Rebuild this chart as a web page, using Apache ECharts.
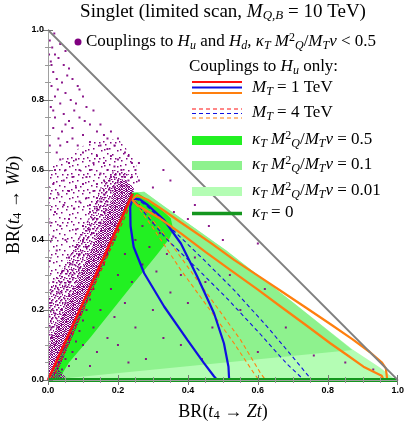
<!DOCTYPE html>
<html>
<head>
<meta charset="utf-8">
<script src="https://cdn.jsdelivr.net/npm/echarts@6/dist/echarts.min.js"></script>
<style>
  html, body { margin: 0; padding: 0; background: #fff; }
  #chart { width: 407px; height: 427px; }
</style>
</head>
<body>
<div id="chart"></div>
<script>
// axis ticks
const xTicks = [0, 0.2, 0.4, 0.6, 0.8, 1.0];
const yTicks = [0, 0.2, 0.4, 0.6, 0.8, 1.0];

// kinematic limit BR(Zt) + BR(Wb) = 1
const kinematicLimit = [[0, 1], [1, 0]];

// coupling regions (H_u only)
const region001 = [[0, 0], [0.238, 0.535], [0.275, 0.538], [0.33, 0.498], [0.509, 0.371], [0.7, 0.222], [0.87, 0.088], [0.95, 0.035], [0.985, 0.008], [0.99, 0], [0, 0]];
const region01 = [[0, 0], [0.238, 0.535], [0.275, 0.538], [0.33, 0.498], [0.509, 0.371], [0.7, 0.222], [0.87, 0.086], [0, 0]];
const region05 = [[0.005, 0], [0.238, 0.535], [0.256, 0.535], [0.313, 0.497], [0.351, 0.462], [0.358, 0.43], [0.348, 0.405], [0.313, 0.36], [0.24, 0.27], [0.18, 0.195], [0.12, 0.12], [0.06, 0.05], [0.03, 0]];

// M_T = 1 TeV curves
const redSolid = [[0, 0], [0.242, 0.532]];
const blueSolid = [[0.484, 0], [0.475, 0.01], [0.446, 0.048], [0.399, 0.114], [0.332, 0.21], [0.275, 0.305], [0.245, 0.38], [0.236, 0.44], [0.235, 0.495], [0.242, 0.518], [0.262, 0.516], [0.285, 0.5], [0.332, 0.457], [0.38, 0.39], [0.427, 0.295], [0.475, 0.19], [0.503, 0.105], [0.516, 0.038], [0.518, 0]];
const orangeSolid = [[0.24, 0.515], [0.255, 0.528], [0.285, 0.515], [0.33, 0.485], [0.38, 0.45], [0.466, 0.391], [0.532, 0.343], [0.6, 0.298], [0.665, 0.255], [0.74, 0.205], [0.807, 0.16], [0.87, 0.117], [0.92, 0.08], [0.955, 0.05], [0.966, 0.033], [0.97, 0.0], [0.96, 0.0], [0.954, 0.012], [0.902, 0.038], [0.85, 0.075], [0.807, 0.105], [0.74, 0.155], [0.665, 0.21], [0.6, 0.258], [0.522, 0.314], [0.45, 0.366], [0.38, 0.419], [0.32, 0.462], [0.285, 0.482], [0.255, 0.5], [0.24, 0.515]];

// M_T = 4 TeV curves
const redDashed = [[0.012, 0], [0.245, 0.522]];
const blueDashed = [[0.25, 0.52], [0.285, 0.495], [0.361, 0.425], [0.446, 0.343], [0.532, 0.257], [0.627, 0.152], [0.703, 0.062], [0.754, 0], [0.732, 0], [0.684, 0.045], [0.608, 0.13], [0.513, 0.232], [0.427, 0.318], [0.342, 0.4], [0.29, 0.46], [0.25, 0.51]];
const orangeDashed = [[0.248, 0.515], [0.323, 0.429], [0.399, 0.324], [0.475, 0.219], [0.551, 0.114], [0.608, 0.019], [0.622, 0], [0.603, 0], [0.589, 0.019], [0.532, 0.105], [0.456, 0.21], [0.38, 0.314], [0.304, 0.429], [0.25, 0.505]];

// kappa_T = 0
const kappaZero = [[0, 0], [1, 0]];

// scan (couplings to H_u and H_d): dense band next to the red line, then looser zones around it
const scanBand = [[0, 0], [0, 0.095], [0.085, 0.286], [0.168, 0.476], [0.19, 0.55], [0.215, 0.575], [0.245, 0.55], [0.245, 0.535], [0.03, 0.03], [0.06, 0], [0, 0]];
const scanInner = [[0, 0.095], [0, 0.25], [0.06, 0.35], [0.12, 0.47], [0.15, 0.55], [0.19, 0.6], [0.235, 0.59], [0.215, 0.575], [0.19, 0.55], [0.168, 0.476], [0.085, 0.286]];
const scanHalo = [[0, 0.04], [0, 0.6], [0.05, 0.64], [0.12, 0.68], [0.2, 0.69], [0.25, 0.63], [0.26, 0.56], [0.245, 0.54], [0.03, 0.03]];

// scan points
const scanUpper = [[0.005, 0.97], [0.012, 0.95], [0.02, 0.93], [0.008, 0.91], [0.03, 0.92], [0.045, 0.9], [0.015, 0.88], [0.06, 0.89], [0.025, 0.86], [0.04, 0.85], [0.07, 0.86], [0.01, 0.84], [0.085, 0.84], [0.05, 0.82], [0.02, 0.81], [0.09, 0.83], [0.065, 0.8], [0.035, 0.79], [0.1, 0.81], [0.008, 0.78], [0.075, 0.77], [0.045, 0.76], [0.11, 0.78], [0.02, 0.75], [0.06, 0.74], [0.13, 0.77], [0.09, 0.75], [0.015, 0.72], [0.04, 0.71], [0.12, 0.73], [0.07, 0.72], [0.1, 0.7], [0.03, 0.69], [0.14, 0.71], [0.055, 0.68], [0.085, 0.67], [0.005, 0.67], [0.16, 0.7], [0.12, 0.68], [0.025, 0.65], [0.003, 0.93], [0.018, 0.99], [0.05, 0.94], [0.035, 0.96], [0.01, 0.9], [0.028, 0.83], [0.055, 0.87], [0.08, 0.79], [0.015, 0.77], [0.05, 0.73], [0.105, 0.74], [0.035, 0.67], [0.07, 0.69], [0.15, 0.73], [0.17, 0.69]];
const scanCluster = [[0.15, 0.67], [0.17, 0.66], [0.14, 0.64], [0.18, 0.64], [0.16, 0.62], [0.2, 0.63], [0.13, 0.62], [0.19, 0.61], [0.17, 0.6], [0.21, 0.6], [0.15, 0.59], [0.12, 0.6], [0.22, 0.58], [0.18, 0.58], [0.2, 0.57], [0.16, 0.57], [0.23, 0.57], [0.14, 0.56], [0.11, 0.58], [0.19, 0.55], [0.21, 0.555], [0.175, 0.545], [0.225, 0.555], [0.1, 0.56], [0.13, 0.54], [0.09, 0.6], [0.08, 0.63], [0.06, 0.62], [0.1, 0.65], [0.05, 0.6], [0.07, 0.58], [0.035, 0.63], [0.02, 0.6], [0.045, 0.57], [0.08, 0.55], [0.015, 0.56], [0.06, 0.54], [0.03, 0.53], [0.11, 0.52], [0.09, 0.51], [0.005, 0.52], [0.045, 0.5], [0.075, 0.49], [0.02, 0.48], [0.06, 0.46], [0.035, 0.44], [0.005, 0.45], [0.08, 0.43], [0.015, 0.41], [0.05, 0.4], [0.025, 0.37], [0.06, 0.35], [0.005, 0.34], [0.04, 0.31], [0.015, 0.28], [0.03, 0.25], [0.005, 0.22], [0.02, 0.19], [0.008, 0.15], [0.012, 0.12], [0.19, 0.67], [0.2, 0.69], [0.18, 0.71], [0.22, 0.65], [0.24, 0.62], [0.25, 0.6], [0.24, 0.58], [0.26, 0.57], [0.23, 0.64]];
const scanHaloPts = [[0.07, 0.3], [0.05, 0.27], [0.09, 0.36], [0.1, 0.4], [0.12, 0.43], [0.13, 0.46], [0.14, 0.49], [0.15, 0.51], [0.12, 0.48], [0.1, 0.44], [0.08, 0.38], [0.07, 0.33], [0.06, 0.24], [0.04, 0.2], [0.03, 0.15], [0.02, 0.1], [0.11, 0.38], [0.13, 0.42], [0.15, 0.45], [0.16, 0.48], [0.17, 0.5], [0.09, 0.32], [0.06, 0.28], [0.05, 0.22], [0.14, 0.52], [0.16, 0.53], [0.12, 0.5]];
const scanInside = [[0.26, 0.5], [0.28, 0.48], [0.3, 0.45], [0.27, 0.44], [0.32, 0.42], [0.25, 0.4], [0.29, 0.38], [0.34, 0.36], [0.22, 0.36], [0.27, 0.33], [0.31, 0.31], [0.2, 0.3], [0.24, 0.28], [0.18, 0.26], [0.22, 0.22], [0.15, 0.2], [0.19, 0.18], [0.13, 0.15], [0.17, 0.12], [0.1, 0.1], [0.14, 0.08], [0.08, 0.06], [0.12, 0.04], [0.2, 0.1], [0.25, 0.15], [0.3, 0.2], [0.35, 0.25], [0.38, 0.3], [0.42, 0.35], [0.45, 0.28], [0.4, 0.22], [0.33, 0.12], [0.28, 0.06], [0.47, 0.15], [0.52, 0.3], [0.46, 0.44], [0.36, 0.48], [0.4, 0.46], [0.5, 0.4], [0.55, 0.2], [0.62, 0.26], [0.68, 0.15], [0.76, 0.07], [0.85, 0.05], [0.93, 0.03], [0.6, 0.08], [0.44, 0.06], [0.23, 0.05], [0.38, 0.1], [0.26, 0.62], [0.3, 0.55], [0.35, 0.57], [0.42, 0.5], [0.6, 0.39], [0.33, 0.6]];
const scanNearRed = [[0.02, 0.02], [0.04, 0.03], [0.03, 0.05], [0.05, 0.06], [0.06, 0.04], [0.07, 0.08], [0.045, 0.09], [0.08, 0.11], [0.06, 0.12], [0.09, 0.14], [0.1, 0.17], [0.11, 0.2], [0.12, 0.23], [0.13, 0.26], [0.14, 0.3], [0.16, 0.33], [0.17, 0.36], [0.19, 0.4], [0.2, 0.43], [0.21, 0.46], [0.22, 0.49], [0.23, 0.51]];

const RED = '#ff1010', BLUE = '#1010e0', ORANGE = '#ff7f0e', PURPLE = '#800080';
const G05 = '#22f022', G01 = '#8ef28e', G001 = '#b4fdb4', GLINE = '#14961e';
const SERIF = '"Liberation Serif", "DejaVu Serif", serif';

// speckle fills used for the crowded parts of the scan
function speckle(size, cells, dot) {
  const c = document.createElement('canvas');
  c.width = c.height = size;
  const g = c.getContext('2d');
  g.fillStyle = PURPLE;
  cells.forEach(([x, y]) => g.fillRect(x, y, dot, dot));
  return { image: c, repeat: 'repeat' };
}
const denseFill = speckle(7, [[0, 0], [2, 0], [3, 0], [6, 0], [1, 1], [4, 1], [5, 1], [0, 2], [2, 2], [3, 2], [6, 2], [1, 3], [4, 3], [5, 3], [0, 4], [2, 4], [3, 4], [5, 4], [1, 5], [3, 5], [6, 5], [0, 6], [2, 6], [4, 6], [5, 6]], 1);
const midFill = speckle(9, [[0, 0], [4, 1], [7, 2], [2, 3], [5, 5], [8, 6], [1, 7], [6, 8], [3, 8], [6, 3]], 1.5);
const looseFill = speckle(16, [[2, 1], [9, 0], [13, 4], [5, 6], [0, 10], [11, 9], [7, 13], [14, 14], [3, 14], [8, 5]], 1.5);

function polySeries(points, fill, opacity, z) {
  return {
    type: 'custom', z, silent: true, clip: true,
    data: [0],
    renderItem: (params, api) => ({
      type: 'polygon',
      shape: { points: points.map((p) => api.coord(p)) },
      style: { fill, opacity, stroke: null },
    }),
  };
}

function lineSeries(points, color, width, dash, z) {
  return {
    type: 'line', data: points, z, silent: true,
    symbol: 'none', showSymbol: false,
    lineStyle: { color, width, type: dash ? [4, 3] : 'solid', cap: 'butt' },
  };
}

const FS = 17;
const rich = {
  r: { fontFamily: SERIF, fontSize: FS, color: '#000' },
  i: { fontFamily: SERIF, fontSize: FS, fontStyle: 'italic', color: '#000' },
  sub: { fontFamily: SERIF, fontSize: 12, fontStyle: 'italic', color: '#000', padding: [8, 0, 0, 0] },
  sup: { fontFamily: SERIF, fontSize: 12, color: '#000', padding: [0, 0, 8, 0] },
  n: { fontFamily: SERIF, fontSize: 12, color: '#000', padding: [8, 0, 0, 0] },
};
const titleRich = Object.assign({}, rich, {
  r: Object.assign({}, rich.r, { fontSize: 19 }),
  i: Object.assign({}, rich.i, { fontSize: 19 }),
  sub: Object.assign({}, rich.sub, { fontSize: 13 }),
});
const axisRich = Object.assign({}, rich, {
  r: Object.assign({}, rich.r, { fontSize: 18 }),
  i: Object.assign({}, rich.i, { fontSize: 18 }),
  n: Object.assign({}, rich.n, { fontSize: 12.5 }),
});
const KAPPA = '{i|κ}{sub|T}{i| M}{sup|2}{sub|Q}{r|/}{i|M}{sub|T}{i|v}';

function label(x, y, text, extra) {
  return { type: 'text', x, y, z: 100, style: Object.assign({ text, rich, verticalAlign: 'middle', align: 'left' }, extra || {}) };
}
function sample(y, color, width, dash) {
  return { type: 'line', z: 100, shape: { x1: 192, y1: y, x2: 242, y2: y }, style: { stroke: color, lineWidth: width, lineDash: dash ? [4, 3] : null } };
}
function box(y, color) {
  return { type: 'rect', z: 100, shape: { x: 192, y: y - 4.5, width: 50, height: 9 }, style: { fill: color } };
}

const tickLabel = { fontFamily: '"Liberation Sans", Arial, sans-serif', fontWeight: 'bold', fontSize: 9, color: '#000' };
const frameLine = { show: true, lineStyle: { color: '#a0a0a0', width: 1 } };
const ticks = { show: true, inside: true, length: 5, lineStyle: { color: '#777' } };
const minor = { show: true, splitNumber: 4, length: 3, lineStyle: { color: '#999' } };

const chart = echarts.init(document.getElementById('chart'));
chart.setOption({
  animation: false,
  grid: { left: 48, right: 8, top: 30, bottom: 47 },
  xAxis: [
    { type: 'value', min: 0, max: 1, interval: 0.2, z: 10, axisLine: frameLine, axisTick: ticks, minorTick: minor,
      splitLine: { show: false }, axisLabel: Object.assign({ margin: 6, formatter: (v) => v.toFixed(1) }, tickLabel) },
    { type: 'value', position: 'top', min: 0, max: 1, interval: 0.2, z: 10, axisLine: frameLine, axisTick: ticks, minorTick: minor,
      splitLine: { show: false }, axisLabel: { show: false } },
  ],
  yAxis: [
    { type: 'value', min: 0, max: 1, interval: 0.2, z: 10, axisLine: frameLine, axisTick: ticks, minorTick: minor,
      splitLine: { show: false }, axisLabel: Object.assign({ margin: 4, formatter: (v) => v.toFixed(1) }, tickLabel) },
    { type: 'value', position: 'right', min: 0, max: 1, interval: 0.2, z: 10, axisLine: frameLine, axisTick: ticks, minorTick: minor,
      splitLine: { show: false }, axisLabel: { show: false } },
  ],
  series: [
    polySeries(region001, G001, 1, 1),
    polySeries(region01, G01, 1, 1),
    polySeries(region05, G05, 1, 1),
    polySeries(scanHalo, looseFill, 1, 2),
    polySeries(scanInner, midFill, 1, 2),
    polySeries(scanBand, denseFill, 1, 2),
    {
      type: 'scatter', z: 3, silent: true, symbol: 'rect', symbolSize: 2,
      itemStyle: { color: PURPLE, opacity: 0.9 },
      data: [].concat(scanUpper, scanCluster, scanHaloPts, scanInside, scanNearRed),
    },
    lineSeries(orangeDashed, ORANGE, 1.1, true, 4),
    lineSeries(blueDashed, BLUE, 1.1, true, 4),
    lineSeries(redDashed, RED, 1.1, true, 4),
    lineSeries(blueSolid, BLUE, 2.2, false, 5),
    lineSeries(orangeSolid, ORANGE, 2.2, false, 5),
    lineSeries(redSolid, RED, 2.6, false, 6),
    lineSeries(kappaZero, GLINE, 4, false, 6),
    lineSeries(kinematicLimit, '#808080', 1.8, false, 7),
  ],
  graphic: [
    { type: 'text', x: 223, y: 12, z: 100, style: { text: '{r|Singlet (limited scan, }{i|M}{sub|Q,B}{r| = 10 TeV)}', rich: titleRich, align: 'center', verticalAlign: 'middle' } },
    { type: 'circle', z: 100, shape: { cx: 78, cy: 42, r: 3.5 }, style: { fill: PURPLE } },
    label(86, 42, '{r|Couplings to }{i|H}{sub|u}{r| and }{i|H}{sub|d}{r|, }' + KAPPA + '{r| < 0.5}'),
    label(189, 67, '{r|Couplings to }{i|H}{sub|u}{r| only:}'),
    sample(82, RED, 2.2), sample(87.5, BLUE, 2.2), sample(93, ORANGE, 2.2),
    label(252, 88, '{i|M}{sub|T}{r| = 1 TeV}'),
    sample(109, RED, 1.1, true), sample(113.5, BLUE, 1.1, true), sample(118, ORANGE, 1.1, true),
    label(252, 113, '{i|M}{sub|T}{r| = 4 TeV}'),
    box(140.5, G05), label(252, 140, KAPPA + '{r| = 0.5}'),
    box(165.5, G01), label(252, 165, KAPPA + '{r| = 0.1}'),
    box(191.5, G001), label(252, 191, KAPPA + '{r| = 0.01}'),
    sample(213.5, GLINE, 3.5), label(252, 213, '{i|κ}{sub|T}{r| = 0}'),
    { type: 'text', x: 223, y: 412, z: 100, style: { text: '{r|BR(}{i|t}{n|4}{r| → }{i|Zt}{r|)}', rich: axisRich, align: 'center', verticalAlign: 'middle' } },
    { type: 'text', x: 14, y: 205, rotation: Math.PI / 2, z: 100, style: { text: '{r|BR(}{i|t}{n|4}{r| → }{i|Wb}{r|)}', rich: axisRich, align: 'center', verticalAlign: 'middle' } },
  ],
});
</script>
</body>
</html>
